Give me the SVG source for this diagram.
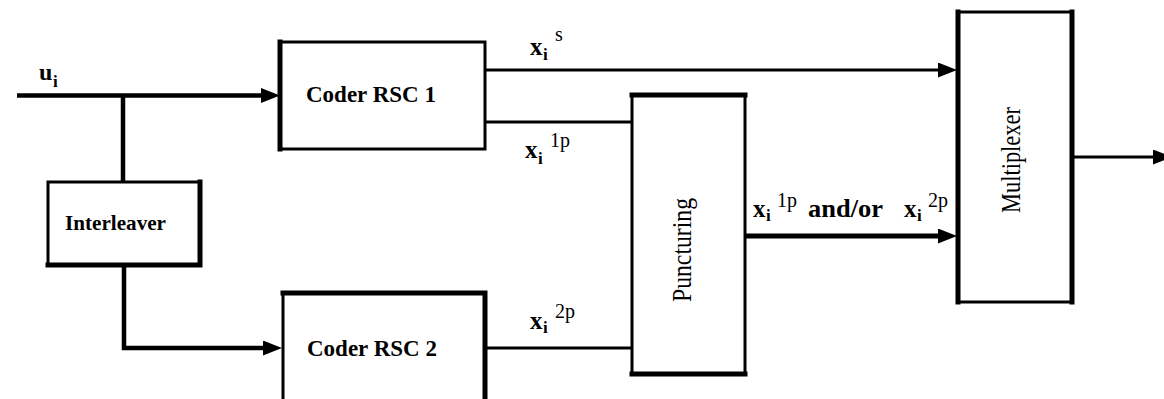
<svg xmlns="http://www.w3.org/2000/svg" width="1164" height="399" viewBox="0 0 1164 399">
<style>
  .box{fill:#fff;stroke:#000;stroke-width:3}
  .thick{fill:none;stroke:#000;stroke-width:5;stroke-linecap:square}
  .ln{fill:none;stroke:#000}
  text{font-family:'Liberation Serif','DejaVu Serif',serif;fill:#000}
  .lbl{font-weight:bold}
  .reg{font-weight:normal}
</style>
<defs>
  <marker id="ah" markerUnits="userSpaceOnUse" markerWidth="20" markerHeight="16" refX="9" refY="7.5" orient="auto">
    <path d="M0,0 L19,7.5 L0,15 Z" fill="#000"/>
  </marker>
</defs>
<rect width="1164" height="399" fill="#fff"/>

<g id="connectors">
  <path class="ln" d="M17,95.5 H270" stroke-width="4.5" marker-end="url(#ah)"/>
  <path class="ln" d="M123,95.5 V182" stroke-width="4.5"/>
  <path class="ln" d="M124,265 V348 H272" stroke-width="4.5" marker-end="url(#ah)"/>
  <path class="ln" d="M485,70 H947" stroke-width="3" marker-end="url(#ah)"/>
  <path class="ln" d="M485,122 H632" stroke-width="3"/>
  <path class="ln" d="M485,348 H632" stroke-width="3"/>
  <path class="ln" d="M745,236 H947" stroke-width="5" marker-end="url(#ah)"/>
  <path class="ln" d="M1072,157 H1162" stroke-width="3" marker-end="url(#ah)"/>
</g>

<g id="labels" font-family="Liberation Serif, DejaVu Serif, serif">
  <text class="lbl" x="39" y="80" font-size="24">u</text>
  <text class="lbl" x="53" y="87" font-size="17">i</text>

  <text class="lbl" x="530" y="55" font-size="25">x</text>
  <text class="lbl" x="543" y="60" font-size="17">i</text>
  <text class="reg" x="555" y="41" font-size="20">s</text>

  <text class="lbl" x="525" y="158" font-size="25">x</text>
  <text class="lbl" x="538" y="164" font-size="17">i</text>
  <text class="reg" x="550" y="147" font-size="20">1p</text>

  <text class="lbl" x="530" y="329" font-size="25">x</text>
  <text class="lbl" x="543" y="333" font-size="17">i</text>
  <text class="reg" x="555" y="318" font-size="20">2p</text>

  <text class="lbl" x="753" y="217" font-size="25">x</text>
  <text class="lbl" x="766" y="221" font-size="17">i</text>
  <text class="reg" x="777" y="207" font-size="20">1p</text>
  <text class="lbl" x="808" y="217" font-size="25" textLength="75" lengthAdjust="spacingAndGlyphs">and/or</text>
  <text class="lbl" x="904" y="217" font-size="25">x</text>
  <text class="lbl" x="917" y="221" font-size="17">i</text>
  <text class="reg" x="928" y="207" font-size="20">2p</text>
</g>

<g id="coder1">
  <rect class="box" x="280" y="42" width="205" height="107"/>
  <path class="thick" d="M280,42 V149"/>
  <text class="lbl" x="306" y="102" font-size="23">Coder RSC 1</text>
</g>

<g id="coder2">
  <rect class="box" x="283" y="293" width="202" height="120"/>
  <path class="thick" d="M283,293 H485 V410"/>
  <text class="lbl" x="307" y="356" font-size="23">Coder RSC 2</text>
</g>

<g id="interleaver">
  <rect class="box" x="48" y="182" width="152" height="83"/>
  <path class="thick" d="M200,182 V265 H48"/>
  <text class="lbl" x="65" y="230" font-size="22" textLength="101" lengthAdjust="spacingAndGlyphs">Interleaver</text>
</g>

<g id="puncturing">
  <rect class="box" x="632" y="95" width="113" height="279"/>
  <path class="thick" d="M632,95 H745 M632,374 H745"/>
  <text class="reg" font-size="27" text-anchor="middle" textLength="104" lengthAdjust="spacingAndGlyphs" transform="translate(691,250) rotate(-90)">Puncturing</text>
</g>

<g id="multiplexer">
  <rect class="box" x="958" y="12" width="114" height="290"/>
  <path class="thick" d="M958,12 V302 M1072,12 V302"/>
  <text class="reg" font-size="27" text-anchor="middle" textLength="106" lengthAdjust="spacingAndGlyphs" transform="translate(1020,160) rotate(-90)">Multiplexer</text>
</g>
</svg>
